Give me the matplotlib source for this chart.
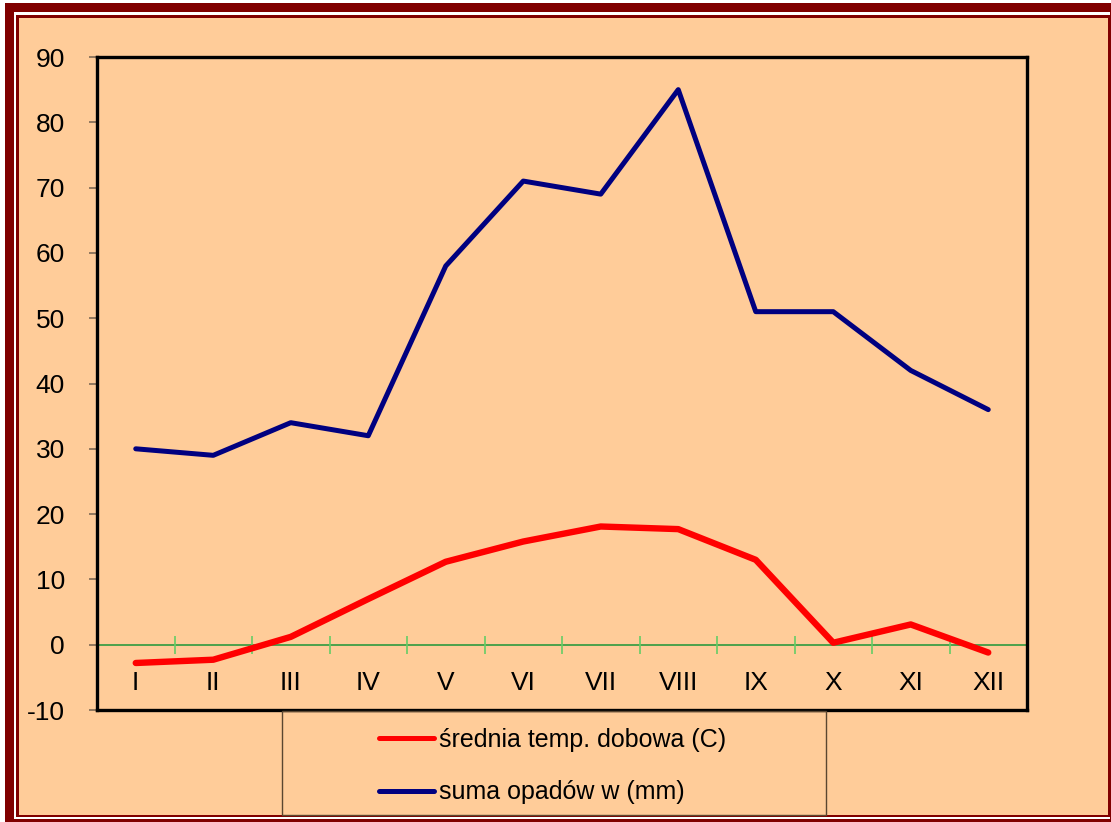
import matplotlib
matplotlib.use("Agg")
import matplotlib.pyplot as plt
from matplotlib.patches import Rectangle
import numpy as np

plt.rcParams['font.family'] = ['Liberation Sans', 'DejaVu Sans']
plt.rcParams['axes.unicode_minus'] = False

months = ["I", "II", "III", "IV", "V", "VI", "VII", "VIII", "IX", "X", "XI", "XII"]
temp = [-2.8, -2.3, 1.2, 7.0, 12.7, 15.8, 18.1, 17.7, 13.0, 0.3, 3.1, -1.2]
precip = [30, 29, 34, 32, 58, 71, 69, 85, 51, 51, 42, 36]
temp_label = "średnia temp. dobowa (C)"
precip_label = "suma opadów w (mm)"

W, H = 1111, 822
PEACH = "#FFCC99"
DARKRED = "#800000"

fig = plt.figure(figsize=(W / 100, H / 100), dpi=100)
fig.patch.set_facecolor("white")


def px_rect(x0, y0, x1, y1, **kw):
    # rectangle given in pixel coords (origin top-left)
    return Rectangle((x0 / W, 1 - y1 / H), (x1 - x0) / W, (y1 - y0) / H,
                     transform=fig.transFigure, **kw)


# double frame around the chart
fig.patches.append(px_rect(5, 3, 1112, 823, facecolor=DARKRED, edgecolor="none", zorder=-5))
fig.patches.append(px_rect(14, 12, 1110, 819, facecolor="white", edgecolor="none", zorder=-4))
fig.patches.append(px_rect(16, 15, 1110, 817, facecolor=DARKRED, edgecolor="none", zorder=-3))
fig.patches.append(px_rect(19, 18, 1108, 815, facecolor=PEACH, edgecolor="none", zorder=-2))

ax = fig.add_axes([97 / W, 1 - 710 / H, 930 / W, 653 / H])
ax.set_facecolor("none")

x = np.arange(len(months))

ax.axhline(0, color="#2E9A3E", lw=1.2, zorder=1)
bounds = np.arange(len(months) + 1) - 0.5
ax.vlines(bounds, -1.5, 1.4, color="#66CC66", lw=1.2, zorder=1)

ax.plot(x, temp, color="#FF0000", lw=4.6, solid_capstyle="round",
        solid_joinstyle="round", label=temp_label, zorder=3)
ax.plot(x, precip, color="#000080", lw=3.6, solid_capstyle="round",
        solid_joinstyle="round", label=precip_label, zorder=3)

for i, m in enumerate(months):
    ax.text(i, -5.85, m, ha="center", va="center", fontsize=19)

ax.set_xlim(-0.5, len(months) - 0.5)
ax.set_ylim(-10, 90)
ax.set_yticks(np.arange(-10, 91, 10))
ax.set_xticks([])
ax.tick_params(axis="y", direction="out", length=6, width=1.2,
               color="#7f6a55", labelsize=19, pad=17)

for s in ax.spines.values():
    s.set_linewidth(2.4)
    s.set_color("black")

# legend box
fig.patches.append(px_rect(282, 711, 826, 815, facecolor="none",
                           edgecolor="#5a4630", lw=1.0, zorder=2))
handles, labels = ax.get_legend_handles_labels()
leg = fig.legend(handles, labels, loc="center",
                 bbox_to_anchor=(553 / W, 1 - 766 / H), frameon=False,
                 fontsize=18, handlelength=2.2, handletextpad=0.2,
                 labelspacing=1.15)
for h in leg.get_lines():
    h.set_linewidth(3.6)

fig.savefig("out.png", dpi=100, facecolor=fig.get_facecolor())
